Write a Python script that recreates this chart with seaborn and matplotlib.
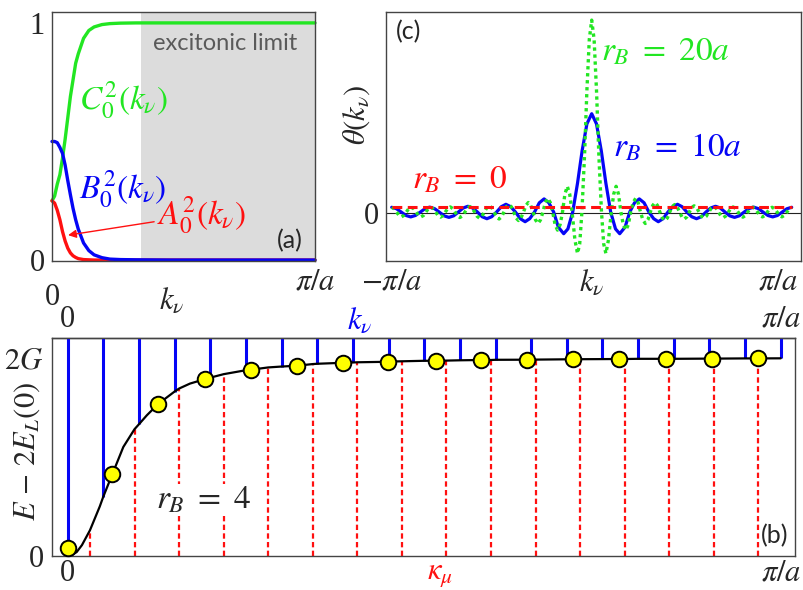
import matplotlib
matplotlib.use('Agg')
import matplotlib.pyplot as plt
import matplotlib.transforms as mtransforms
import seaborn as sns

# ---- panel (a): weights vs k_nu (units of pi/a) ----
k_a = [0, 0.01, 0.02, 0.03, 0.04, 0.05, 0.06, 0.07, 0.08, 0.09, 0.10,
       0.12, 0.14, 0.16, 0.19, 0.22, 0.26, 0.32, 0.45, 1.0]
C0_sq = [0.25, 0.27, 0.32, 0.36, 0.43, 0.51, 0.60, 0.69, 0.76, 0.83, 0.87,
         0.935, 0.968, 0.983, 0.993, 0.997, 0.999, 1.0, 1.0, 1.0]
B0_sq = [0.50, 0.50, 0.495, 0.475, 0.45, 0.40, 0.335, 0.275, 0.218, 0.17, 0.13,
         0.072, 0.04, 0.022, 0.01, 0.004, 0.002, 0.001, 0.0, 0.0]
A0_sq = [0.25, 0.24, 0.21, 0.17, 0.12, 0.08, 0.05, 0.03, 0.018, 0.011, 0.006,
         0.002, 0.001, 0.0, 0.0, 0.0, 0.0, 0.0, 0.0, 0.0]
excitonic_start = 0.338

# ---- panel (c): theta(k) around k_nu (half curves, symmetric) ----
k10_half = [0.000, 0.024, 0.048, 0.071, 0.095, 0.119, 0.140, 0.167, 0.190, 0.214,
            0.238, 0.262, 0.286, 0.310, 0.333, 0.357, 0.381, 0.405, 0.429, 0.452,
            0.476, 0.500, 0.524, 0.548, 0.571, 0.595, 0.619, 0.643, 0.667, 0.690,
            0.714, 0.738, 0.762, 0.786, 0.810, 0.833, 0.857, 0.881, 0.905, 0.929,
            0.952, 0.976, 1.000]
theta10_half = [16.6, 14.9, 10.4, 5.0, 0.2, -2.6, -3.4, -2.3, 0.2, 1.75,
                2.4, 1.75, 0.2, -0.9, -1.4, -0.9, 0.2, 1.1, 1.5, 1.1,
                0.2, -0.57, -0.9, -0.57, 0.2, 0.88, 1.17, 0.88, 0.2, -0.42,
                -0.68, -0.42, 0.2, 0.78, 1.03, 0.78, 0.2, -0.36, -0.6, -0.36,
                0.2, 0.76, 1.0]
k20_half = [0.000, 0.012, 0.024, 0.036, 0.049, 0.060, 0.071, 0.084, 0.098, 0.110,
            0.122, 0.134, 0.146, 0.158, 0.171, 0.183, 0.195, 0.207, 0.220, 0.232,
            0.244, 0.256, 0.268, 0.281, 0.293, 0.305, 0.317, 0.329, 0.341, 0.354,
            0.366, 0.378, 0.390, 0.402, 0.415, 0.427, 0.439, 0.451, 0.463, 0.476,
            0.488, 0.500, 0.512, 0.524, 0.537, 0.549, 0.561, 0.573, 0.585, 0.598,
            0.610, 0.622, 0.634, 0.646, 0.659, 0.671, 0.683, 0.695, 0.707, 0.720,
            0.732, 0.744, 0.756, 0.768, 0.780, 0.793, 0.805, 0.817, 0.829, 0.841,
            0.854, 0.866, 0.878, 0.890, 0.902, 0.915, 0.927, 0.939, 0.951, 0.963,
            0.976, 0.988, 1.000]
theta20_half = [32.2, 29.0, 20.5, 9.5, 0.2, -5.1, -6.7, -4.4, 0.2, 3.2,
                4.5, 3.2, 0.2, -1.9, -2.8, -1.9, 0.2, 1.8, 2.5, 1.8,
                0.2, -1.1, -1.7, -1.1, 0.2, 1.3, 1.8, 1.3, 0.2, -0.8,
                -1.2, -0.8, 0.2, 1.1, 1.45, 1.1, 0.2, -0.6, -0.95, -0.6,
                0.2, 0.95, 1.25, 0.95, 0.2, -0.5, -0.8, -0.5, 0.2, 0.85,
                1.13, 0.85, 0.2, -0.43, -0.7, -0.43, 0.2, 0.8, 1.06, 0.8,
                0.2, -0.39, -0.64, -0.39, 0.2, 0.77, 1.02, 0.77, 0.2, -0.36,
                -0.6, -0.36, 0.2, 0.76, 1.0, 0.76, 0.2, -0.35, -0.59, -0.35,
                0.2, 0.75, 0.99]
k0_line = [-1.0, 1.0]
theta0_line = [1.0, 1.0]

# ---- panel (b): dispersion E - 2E_L(0) in units of G ----
k_nu = [0, 0.05, 0.10, 0.15, 0.20, 0.25, 0.30, 0.35, 0.40, 0.45, 0.50,
        0.55, 0.60, 0.65, 0.70, 0.75, 0.80, 0.85, 0.90, 0.95, 1.00]
E_k_nu = [0.0, 0.60, 1.33, 1.66, 1.80, 1.875, 1.912, 1.94, 1.953, 1.962, 1.97,
          1.975, 1.98, 1.982, 1.985, 1.987, 1.99, 1.99, 1.992, 1.994, 1.995]
kappa_mu = [0.03125, 0.09375, 0.15625, 0.21875, 0.28125, 0.34375, 0.40625, 0.46875,
            0.53125, 0.59375, 0.65625, 0.71875, 0.78125, 0.84375, 0.90625, 0.96875]
E_kappa = [0.26, 1.28, 1.69, 1.835, 1.903, 1.937, 1.955, 1.965,
           1.972, 1.978, 1.982, 1.986, 1.988, 1.99, 1.992, 1.994]
k_dot = [0, 0.0626, 0.127, 0.1926, 0.257, 0.321, 0.3866, 0.449,
         0.516, 0.58, 0.644, 0.709, 0.773, 0.839, 0.904, 0.968]
E_dot = [0.078, 0.825, 1.535, 1.785, 1.88, 1.92, 1.95, 1.96,
         1.97, 1.978, 1.981, 1.986, 1.988, 1.99, 1.992, 1.994]
# extra points
k_extra = [0.006, 0.0126, 0.02, 0.045, 0.078, 0.111, 0.1715]
E_extra = [0.01, 0.04, 0.11, 0.50, 1.10, 1.42, 1.74]

GREEN = '#22e622'
BLUE = '#0505f5'
RED = '#ff1010'

sns.set_style('white')
plt.rcParams['font.family'] = ['Liberation Serif', 'DejaVu Serif']
plt.rcParams['mathtext.fontset'] = 'stix'
plt.rcParams['axes.edgecolor'] = '#444444'
plt.rcParams['axes.linewidth'] = 1.0

FS = 22     # tick / axis labels
FL = 24     # in-plot math labels
fig = plt.figure(figsize=(8.04, 5.9), dpi=100)
W, H = 804, 590
ax_a = fig.add_axes([52 / W, 1 - 261 / H, 263 / W, 249 / H])
ax_c = fig.add_axes([385.7 / W, 1 - 261 / H, 415 / W, 249.3 / H])
ax_b = fig.add_axes([52 / W, 1 - 556 / H, 743 / W, 218 / H])

tick_kw = dict(direction='in', length=4, width=2, color='black', labelsize=FS)


def shift_label(lab, dx, dy):
    off = mtransforms.ScaledTranslation(dx / 100, dy / 100, fig.dpi_scale_trans)
    lab.set_transform(lab.get_transform() + off)


# ---------------- panel (a) ----------------
ax_a.axvspan(excitonic_start, 1, color='#dcdcdc', lw=0, zorder=0)
sns.lineplot(x=k_a, y=C0_sq, ax=ax_a, color=GREEN, lw=2.4, clip_on=False)
sns.lineplot(x=k_a, y=A0_sq, ax=ax_a, color=RED, lw=2.4, clip_on=False)
sns.lineplot(x=k_a, y=B0_sq, ax=ax_a, color=BLUE, lw=2.4, clip_on=False)
ax_a.set_xlim(0, 1)
ax_a.set_ylim(-0.004, 1.046)
ax_a.set_xticks([0, 1], ['0', r'$\pi/a$'])
ax_a.set_yticks([0, 1], ['0', '1'])
ax_a.tick_params(axis='both', pad=5, **tick_kw)
shift_label(ax_a.get_xticklabels()[0], 0, -15)
ax_a.text(0.456, -0.16, r'$k_\nu$', transform=mtransforms.blended_transform_factory(ax_a.transData, ax_a.transAxes),
          ha='center', va='center', fontsize=FS)
ax_a.text(0.658, 0.915, 'excitonic limit', color='#5a5a5a', fontsize=17, family='Lato',
          ha='center', va='center')
ax_a.text(0.27, 0.675, r'$C_0^2(k_\nu)$', color=GREEN, fontsize=FL, ha='center', va='center')
ax_a.text(0.27, 0.30, r'$B_0^2(k_\nu)$', color=BLUE, fontsize=FL, ha='center', va='center')
ax_a.annotate(r'$A_0^2(k_\nu)$', xy=(0.061, 0.105), xytext=(0.57, 0.19), color=RED,
              fontsize=FL, ha='center', va='center',
              arrowprops=dict(arrowstyle='-|>', color=RED, lw=1.0, mutation_scale=12,
                              shrinkA=0, shrinkB=0, relpos=(0.0, 0.35)))
ax_a.text(0.905, 0.036, '(a)', transform=ax_a.transAxes, fontsize=18, family='Lato',
          ha='center', va='bottom')

# ---------------- panel (c) ----------------
k10 = [-x for x in reversed(k10_half[1:])] + k10_half
th10 = list(reversed(theta10_half[1:])) + theta10_half
k20 = [-x for x in reversed(k20_half[1:])] + k20_half
th20 = list(reversed(theta20_half[1:])) + theta20_half

ax_c.axhline(0, color='#222222', lw=0.8, zorder=1)
sns.lineplot(x=k10, y=th10, ax=ax_c, color=BLUE, lw=2.3, zorder=2)
sns.lineplot(x=k20, y=th20, ax=ax_c, color=GREEN, lw=2.4, ls=(0, (1.0, 1.1)), zorder=3)
sns.lineplot(x=k0_line, y=theta0_line, ax=ax_c, color=RED, lw=2.2, ls=(0, (3.2, 1.8)), zorder=4)
ax_c.set_xlim(-1.03, 1.045)
ax_c.set_ylim(-7.95, 33.6)
ax_c.set_xticks([-1, 0, 1], [r'$-\pi/a$', r'$k_\nu$', r'$\pi/a$'])
ax_c.set_yticks([0], ['0'])
ax_c.tick_params(axis='both', pad=5, **tick_kw)
shift_label(ax_c.get_xticklabels()[2], -14, 0)
ax_c.set_ylabel(r'$\theta(k_\nu)$', fontsize=FS)
ax_c.yaxis.set_label_coords(-0.033, 0.585)
ax_c.text(0.054, 0.92, '(c)', transform=ax_c.transAxes, fontsize=18, family='Lato',
          ha='center', va='center')
ax_c.text(-0.66, 5.5, r'$r_B\ =\ 0$', color=RED, fontsize=FL, ha='center', va='center')
ax_c.text(0.43, 10.9, r'$r_B\ =\ 10a$', color=BLUE, fontsize=FL, ha='center', va='center')
ax_c.text(0.368, 26.9, r'$r_B\ =\ 20a$', color=GREEN, fontsize=FL, ha='center', va='center')

# ---------------- panel (b) ----------------
curve = sorted(list(zip(k_nu, E_k_nu)) + list(zip(kappa_mu, E_kappa))
               + list(zip(k_dot[1:], E_dot[1:])) + list(zip(k_extra, E_extra)))
ax_b.set_xlim(-0.022, 1.02)
ax_b.set_ylim(0, 2.2)
ax_b.vlines(k_nu, E_k_nu, 2.2, colors=BLUE, lw=2.2, zorder=2)
ax_b.vlines(kappa_mu, 0, E_kappa, colors=RED, lw=1.6, linestyles=(0, (2.4, 1.5)), zorder=2)
sns.lineplot(x=[c[0] for c in curve], y=[c[1] for c in curve], ax=ax_b, color='black',
             lw=1.6, zorder=3)
sns.scatterplot(x=k_dot, y=E_dot, ax=ax_b, s=125, color='#ffff00', edgecolor='black',
                linewidth=1.4, zorder=5, clip_on=False)
ax_b.set_xticks([0, 1], ['0', r'$\pi/a$'])
ax_b.set_yticks([0, 2], ['0', r'$2G$'])
ax_b.tick_params(axis='y', pad=6, **tick_kw)
ax_b.tick_params(axis='x', pad=2, **tick_kw)
top = ax_b.secondary_xaxis('top')
top.set_xticks([0, 1], ['0', r'$\pi/a$'])
top.tick_params(axis='x', pad=3, **tick_kw)
ax_b.set_ylabel(r'$E\,-\,2E_L(0)$', fontsize=FS)
ax_b.yaxis.set_label_coords(-0.013, 0.48)
bl = mtransforms.blended_transform_factory(ax_b.transData, ax_b.transAxes)
ax_b.text(0.41, 1.078, r'$k_\nu$', transform=bl, color=BLUE, fontsize=FS, ha='center', va='center')
ax_b.text(0.522, -0.085, r'$\kappa_\mu$', transform=bl, color=RED, fontsize=FS, ha='center', va='center')
ax_b.text(0.19, 0.566, r'$r_B\ =\ 4$', fontsize=FL, ha='center', va='center', zorder=4,
          bbox=dict(facecolor='white', edgecolor='none', pad=0.5))
ax_b.text(0.973, 0.092, '(b)', transform=ax_b.transAxes, fontsize=18, family='Lato',
          ha='center', va='center')

fig.savefig('out.png', dpi=100)
